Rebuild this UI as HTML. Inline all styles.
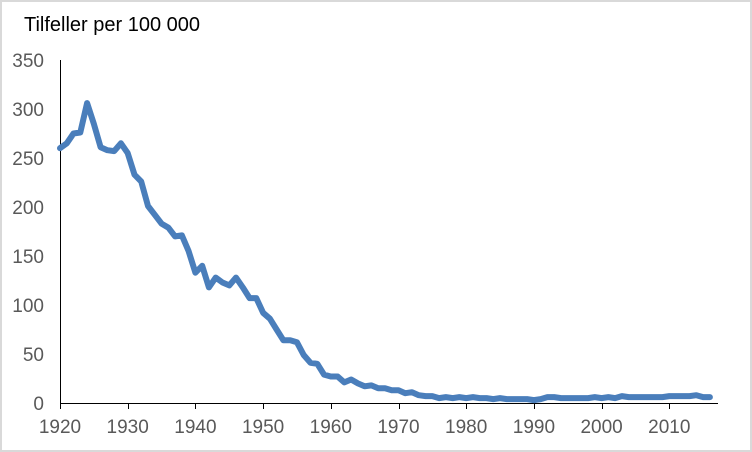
<!DOCTYPE html>
<html><head><meta charset="utf-8"><style>
html,body{margin:0;padding:0;background:#fff}
svg{display:block}
text{font-family:"Liberation Sans",Arial,sans-serif}
</style></head><body>
<svg width="752" height="452" viewBox="0 0 752 452" xmlns="http://www.w3.org/2000/svg">
<rect x="1" y="1" width="750" height="450" fill="#fff" stroke="#d9d9d9" stroke-width="2"/>
<text x="24" y="31" font-size="20" fill="#000">Tilfeller per 100 000</text>
<g font-size="19" fill="#595959" text-anchor="end">
<text x="44" y="67">350</text><text x="44" y="116">300</text><text x="44" y="165">250</text><text x="44" y="214">200</text>
<text x="44" y="263">150</text><text x="44" y="312">100</text><text x="44" y="361">50</text><text x="44" y="410">0</text>
</g>
<g font-size="19" fill="#595959" text-anchor="middle" id="xl"></g>
<line x1="60.5" y1="60" x2="60.5" y2="403" stroke="#000" stroke-width="1"/>
<line x1="60" y1="403.5" x2="718" y2="403.5" stroke="#000" stroke-width="1"/>
<g id="ticks" stroke="#000" stroke-width="1"></g>
<polyline id="ln" fill="none" stroke="#4a7ebb" stroke-width="6" stroke-linejoin="round" stroke-linecap="round"/>
</svg>
<script>
var v=[260,265,275,276,306,285,261,258,257,265,255,233,226,201,192,183,179,170,171,155,133,140,118,128,123,120,128,118,107,107,92,86,75,64,64,62,49,41,40,29,27,27,21,24,20,17,18,15,15,13,13,10,11,8,7,7,5,6,5,6,5,6,5,5,4,5,4,4,4,4,3,4,6,6,5,5,5,5,5,6,5,6,5,7,6,6,6,6,6,6,7,7,7,7,8,6,6,5];
var X=function(y){return 60+(y-1920)*6.77},Y=function(a){return 403-a*0.98};
var p=[];for(var i=0;i<97;i++)p.push(X(1920+i).toFixed(1)+","+Y(v[i]).toFixed(1));
document.getElementById("ln").setAttribute("points",p.join(" "));
var ns="http://www.w3.org/2000/svg",xl=document.getElementById("xl"),tk=document.getElementById("ticks");
for(var d=1920;d<=2010;d+=10){var x=X(d);
var t=document.createElementNS(ns,"text");t.setAttribute("x",x);t.setAttribute("y",433);t.textContent=d;xl.appendChild(t);
var l=document.createElementNS(ns,"line");l.setAttribute("x1",Math.round(x)+0.5);l.setAttribute("x2",Math.round(x)+0.5);l.setAttribute("y1",403);l.setAttribute("y2",409);tk.appendChild(l);}
</script>
</body></html>
